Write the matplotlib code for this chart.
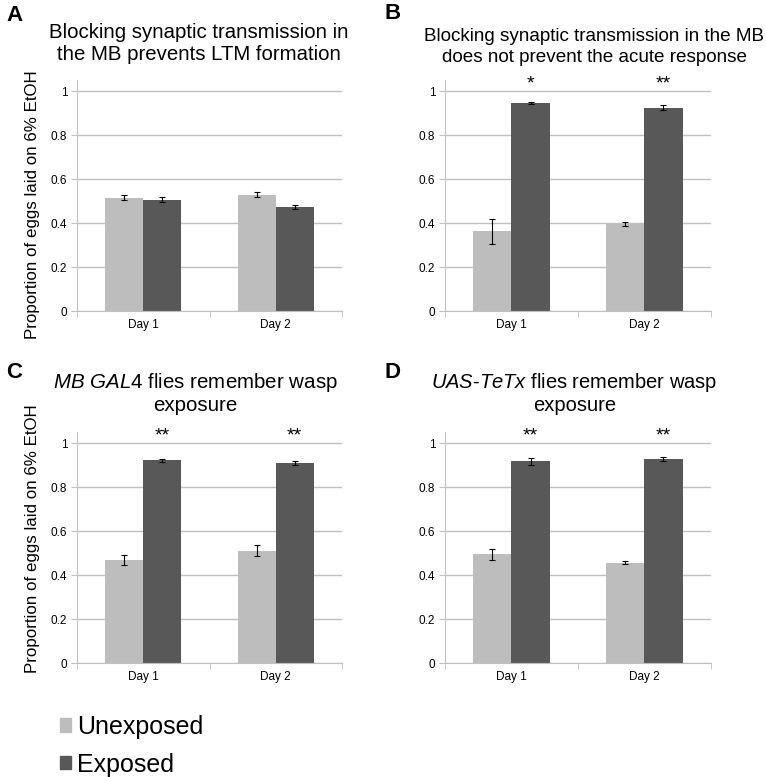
import matplotlib
matplotlib.use("Agg")
import matplotlib.pyplot as plt
from matplotlib.patches import Patch
import numpy as np

plt.rcParams['font.family'] = ['Liberation Sans', 'DejaVu Sans']
plt.rcParams['mathtext.fontset'] = 'custom'
plt.rcParams['mathtext.rm'] = 'Liberation Sans'
plt.rcParams['mathtext.it'] = 'Liberation Sans:italic'

days = ["Day 1", "Day 2"]
series = ["Unexposed", "Exposed"]

# panel data: unexposed / exposed means and errors
a_unexp = [0.515, 0.530]
a_unexp_err = [0.012, 0.013]
a_exp = [0.507, 0.475]
a_exp_err = [0.012, 0.009]

b_unexp = [0.362, 0.395]
b_unexp_err = [0.055, 0.010]
b_exp = [0.947, 0.925]
b_exp_err = [0.006, 0.012]
b_stars = ["*", "**"]

c_unexp = [0.470, 0.510]
c_unexp_err = [0.023, 0.025]
c_exp = [0.922, 0.911]
c_exp_err = [0.006, 0.010]
c_stars = ["**", "**"]

d_unexp = [0.495, 0.457]
d_unexp_err = [0.025, 0.005]
d_exp = [0.917, 0.930]
d_exp_err = [0.014, 0.009]
d_stars = ["**", "**"]

light = "#bdbdbd"
dark = "#585858"
gridc = "#c0c0c0"

fig = plt.figure(figsize=(7.66, 7.77), dpi=100)


def draw_panel(rect, unexp, unexp_err, exp, exp_err, stars):
    ax = fig.add_axes(rect)
    x = np.arange(len(days))
    w = 0.287
    ax.bar(x - w / 2, unexp, w, color=light, zorder=2)
    ax.bar(x + w / 2, exp, w, color=dark, zorder=2)
    ax.errorbar(x - w / 2, unexp, yerr=unexp_err, fmt='none', ecolor='black',
                elinewidth=0.8, capsize=2, capthick=0.8, zorder=3)
    ax.errorbar(x + w / 2, exp, yerr=exp_err, fmt='none', ecolor='black',
                elinewidth=0.8, capsize=2, capthick=0.8, zorder=3)
    if stars:
        for i, s in enumerate(stars):
            ax.text(x[i] + w / 2, 0.995, s, ha='center', va='bottom', fontsize=14)
    ax.set_xlim(-0.5, 1.5)
    ax.set_ylim(0, 1.05)
    ax.set_yticks([0, 0.2, 0.4, 0.6, 0.8, 1])
    ax.set_yticklabels(["0", "0.2", "0.4", "0.6", "0.8", "1"], fontsize=8.5)
    ax.set_xticks(x)
    ax.set_xticklabels(days, fontsize=8.5)
    ax.tick_params(axis='x', length=0, pad=6)
    ax.set_xticks([-0.5, 0.5, 1.5], minor=True)
    ax.tick_params(axis='x', which='minor', length=4, color=gridc)
    ax.tick_params(axis='y', length=4, color=gridc, pad=3)
    ax.grid(axis='y', color=gridc, linewidth=1, zorder=0)
    for side in ['top', 'right']:
        ax.spines[side].set_visible(False)
    for side in ['left', 'bottom']:
        ax.spines[side].set_color(gridc)
    return ax


draw_panel([0.1005, 0.5997, 0.346, 0.297], a_unexp, a_unexp_err, a_exp, a_exp_err, None)
draw_panel([0.581, 0.5997, 0.347, 0.297], b_unexp, b_unexp_err, b_exp, b_exp_err, b_stars)
draw_panel([0.1005, 0.1467, 0.346, 0.297], c_unexp, c_unexp_err, c_exp, c_exp_err, c_stars)
draw_panel([0.581, 0.1467, 0.347, 0.297], d_unexp, d_unexp_err, d_exp, d_exp_err, d_stars)

# titles
fig.text(0.26, 0.944, "Blocking synaptic transmission in\nthe MB prevents LTM formation",
         ha='center', va='center', fontsize=14.7, linespacing=1.15)
fig.text(0.776, 0.940, "Blocking synaptic transmission in the MB\ndoes not prevent the acute response",
         ha='center', va='center', fontsize=13.6, linespacing=1.3)
fig.text(0.255, 0.494, r"$\mathit{MB\ GAL4}$ flies remember wasp" + "\nexposure",
         ha='center', va='center', fontsize=14.8, linespacing=1.1)
fig.text(0.75, 0.494, r"$\mathit{UAS}$-$\mathit{TeTx}$ flies remember wasp" + "\nexposure",
         ha='center', va='center', fontsize=14.5, linespacing=1.1)

# panel letters
fig.text(0.008, 0.98, "A", fontsize=16, fontweight='bold', va='center')
fig.text(0.502, 0.983, "B", fontsize=16, fontweight='bold', va='center')
fig.text(0.008, 0.52, "C", fontsize=16, fontweight='bold', va='center')
fig.text(0.502, 0.52, "D", fontsize=16, fontweight='bold', va='center')

# y labels
fig.text(0.042, 0.736, "Proportion of eggs laid on 6% EtOH", rotation=90,
         ha='center', va='center', fontsize=12.2)
fig.text(0.042, 0.307, "Proportion of eggs laid on 6% EtOH", rotation=90,
         ha='center', va='center', fontsize=12.2)

# legend
handles = [Patch(color=light), Patch(color=dark)]
fig.legend(handles, series, loc='upper left', bbox_to_anchor=(0.078, 0.080),
           frameon=False, fontsize=18, handlelength=0.45, handleheight=0.45,
           handletextpad=0.25, labelspacing=0.55, borderpad=0, borderaxespad=0)

fig.savefig("out.png", dpi=100)
